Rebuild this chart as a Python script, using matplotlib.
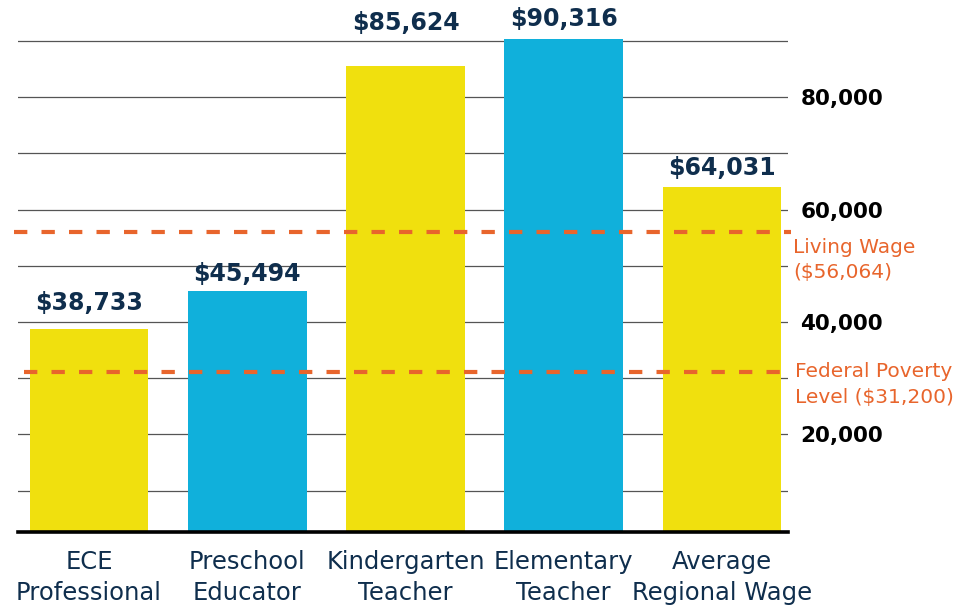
import matplotlib.pyplot as plt
import matplotlib.transforms as mtransforms

# ==============================
# Data
# ==============================
categories = ["ECE\nProfessional", "Preschool\nEducator", "Kindergarten\nTeacher",
              "Elementary\nTeacher", "Average\nRegional Wage"]
wages = [38733, 45494, 85624, 90316, 64031]
value_labels = ["$38,733", "$45,494", "$85,624", "$90,316", "$64,031"]
living_wage = 56064
poverty_level = 31200
living_label = "Living Wage\n($56,064)"
poverty_label = "Federal Poverty\nLevel ($31,200)"
tick_values = [20000, 40000, 60000, 80000]
grid_values = [10000, 20000, 30000, 40000, 50000, 60000, 70000, 80000, 90000]

# ==============================
# Style
# ==============================
YELLOW = "#F0E00E"
BLUE = "#10B0DB"
ORANGE = "#E8652C"
NAVY = "#0F2E4D"
bar_colors = [YELLOW, BLUE, YELLOW, BLUE, YELLOW]
label_pads = [10, 4, 22, 6, 5]   # points above each bar top

plt.rcParams["font.family"] = ["DejaVu Sans"]

fig = plt.figure(figsize=(9.68, 6.07), dpi=100)
ax = fig.add_axes([18 / 968, 75 / 607, 770 / 968, 532 / 607])

x = list(range(len(categories)))

# gridlines
for g in grid_values:
    ax.axhline(g, color="#555555", linewidth=0.9, zorder=0)

ax.bar(x, wages, width=0.75, color=bar_colors, zorder=2)

# value labels
for xi, v, lab, pad in zip(x, wages, value_labels, label_pads):
    ax.annotate(lab, (xi, v), xytext=(0, pad), textcoords="offset points",
                ha="center", va="bottom", fontsize=17, fontweight="bold",
                color=NAVY, zorder=4)

# reference lines
ax.axhline(living_wage, xmin=-0.005, xmax=1.004, color=ORANGE, linewidth=3,
           dashes=(3.2, 3.4), zorder=3, clip_on=False)
ax.axhline(poverty_level, xmin=0.008, xmax=0.997, color=ORANGE, linewidth=3,
           dashes=(3.2, 3.4), zorder=3, clip_on=False)

trans = mtransforms.blended_transform_factory(fig.transFigure, ax.transData)
ax.text(793 / 968, living_wage - 1050, living_label, transform=trans,
        ha="left", va="top", fontsize=14.5, color=ORANGE, linespacing=1.45)
ax.text(795 / 968, poverty_level + 1650, poverty_label, transform=trans,
        ha="left", va="top", fontsize=14.5, color=ORANGE, linespacing=1.45)

ax.set_xlim(-0.449, 4.417)
ax.set_ylim(2650, 97300)

ax.set_xticks(x)
ax.set_xticklabels(categories, fontsize=17.5, color=NAVY, linespacing=1.38)
ax.set_yticks(tick_values)
ax.set_yticklabels([f"{t:,}" for t in tick_values], fontsize=15.5,
                   fontweight="bold", color="black")
ax.yaxis.tick_right()
ax.tick_params(axis="both", length=0)
ax.tick_params(axis="x", pad=13)
ax.tick_params(axis="y", pad=9)

for side in ("top", "left", "right"):
    ax.spines[side].set_visible(False)
ax.spines["bottom"].set_linewidth(2.6)
ax.spines["bottom"].set_color("black")
ax.spines["bottom"].set_zorder(5)

fig.savefig("out.png", dpi=100)
